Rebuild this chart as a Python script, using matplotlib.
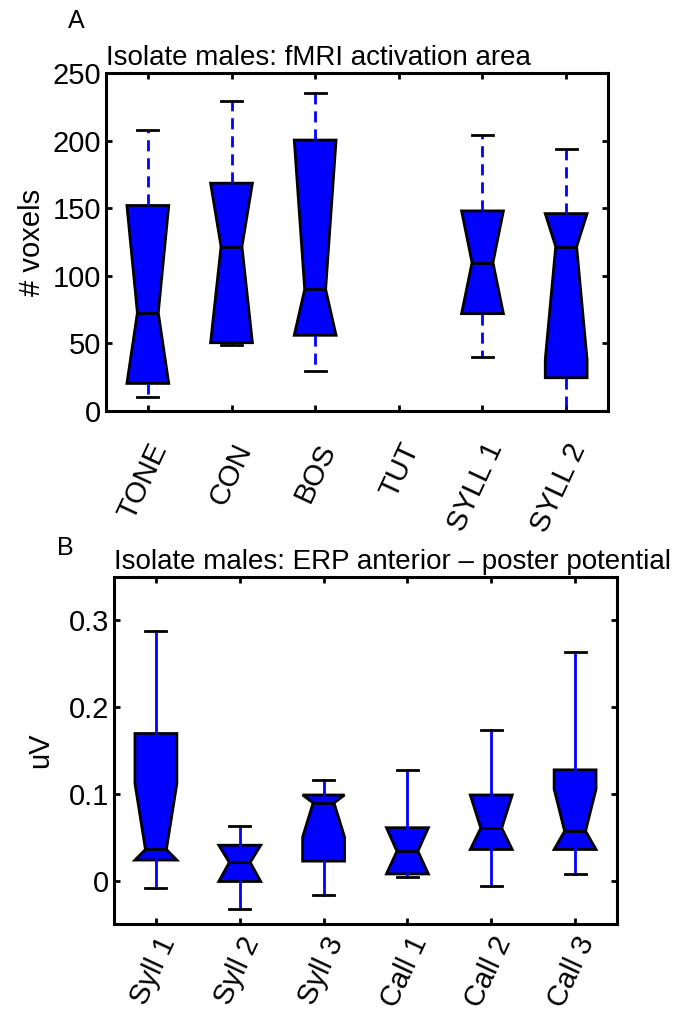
import matplotlib
matplotlib.use("Agg")
import matplotlib.pyplot as plt

plt.rcParams['font.family'] = ['Liberation Sans', 'DejaVu Sans']

# panel A: fMRI activation area (# voxels); TUT has no data
a_labels = ['TONE', 'CON', 'BOS', 'TUT', 'SYLL 1', 'SYLL 2']
a_pos = [1, 2, 3, 5, 6]
a_whislo = [10.5, 48.5, 29.5, 40, -20]
a_q1 = [20.4, 50.5, 56, 72, 24.6]
a_cilo = [20.4, 50.5, 56, 72, 38]
a_med = [72.7, 121.6, 90, 109.8, 121.6]
a_cihi = [152, 168.5, 200.4, 148, 146]
a_q3 = [152, 168.5, 200.4, 148, 146]
a_whishi = [207.6, 229, 235, 204, 193.5]

# panel B: ERP anterior - posterior potential (uV)
b_labels = ['Syll 1', 'Syll 2', 'Syll 3', 'Call 1', 'Call 2', 'Call 3']
b_pos = [1, 2, 3, 4, 5, 6]
b_whislo = [-0.0087, -0.0327, -0.0164, 0.0039, -0.006, 0.0077]
b_q1 = [0.0237, -0.001, 0.0225, 0.0077, 0.0359, 0.0359]
b_cilo = [0.0237, -0.001, 0.0503, 0.0077, 0.0359, 0.0359]
b_med = [0.0359, 0.021, 0.0896, 0.034, 0.0606, 0.0571]
b_cihi = [0.112, 0.0408, 0.0987, 0.061, 0.0987, 0.1056]
b_q3 = [0.1696, 0.0408, 0.0987, 0.061, 0.0987, 0.1277]
b_whishi = [0.2876, 0.0625, 0.1159, 0.1277, 0.1741, 0.2637]


def make_stats(whislo, q1, cilo, med, cihi, q3, whishi):
    return [dict(whislo=a, q1=b, cilo=c, med=d, cihi=e, q3=f, whishi=g, fliers=[])
            for a, b, c, d, e, f, g in zip(whislo, q1, cilo, med, cihi, q3, whishi)]


def draw(ax, stats, pos, wstyle):
    ax.bxp(stats, positions=pos, widths=0.5, capwidths=0.25, shownotches=True,
           patch_artist=True, showfliers=False,
           boxprops=dict(facecolor='#0000ff', edgecolor='black', linewidth=2),
           medianprops=dict(color='black', linewidth=2),
           whiskerprops=dict(color='#0000ff', linewidth=2, linestyle=wstyle),
           capprops=dict(color='black', linewidth=2))
    ax.set_xlim(0.5, 6.5)
    for s in ax.spines.values():
        s.set_linewidth(2.2)
    ax.tick_params(direction='in', length=4, width=2, top=True, right=True,
                   labelsize=21)


fig = plt.figure(figsize=(6.76, 10.11), dpi=100)

ax1 = fig.add_axes([106 / 676, 1 - 411 / 1011, 502 / 676, 338 / 1011])
draw(ax1, make_stats(a_whislo, a_q1, a_cilo, a_med, a_cihi, a_q3, a_whishi),
     a_pos, (0, (4, 2.5)))
ax1.set_ylim(0, 250)
ax1.set_yticks([0, 50, 100, 150, 200, 250])
ax1.set_xticks(range(1, 7))
ax1.set_xticklabels(a_labels, rotation=65, ha='right', va='top',
                    rotation_mode='anchor')
ax1.tick_params(axis='x', pad=20)
ax1.set_ylabel('# voxels', fontsize=21)
ax1.yaxis.set_label_coords(-0.12, 0.5)
ax1.set_title('Isolate males: fMRI activation area', loc='left', fontsize=20, pad=6)

ax2 = fig.add_axes([114 / 676, 1 - 924 / 1011, 503 / 676, 347 / 1011])
draw(ax2, make_stats(b_whislo, b_q1, b_cilo, b_med, b_cihi, b_q3, b_whishi),
     b_pos, '-')
ax2.set_ylim(-0.05, 0.35)
ax2.set_yticks([0, 0.1, 0.2, 0.3])
ax2.set_yticklabels(['0', '0.1', '0.2', '0.3'])
ax2.set_xticks(b_pos)
ax2.set_xticklabels(b_labels, rotation=65, ha='right', va='top',
                    rotation_mode='anchor')
ax2.tick_params(axis='x', pad=6)
ax2.set_ylabel('uV', fontsize=21)
ax2.yaxis.set_label_coords(-0.12, 0.5)
ax2.set_title('Isolate males: ERP anterior \u2013 poster potential', loc='left',
              fontsize=20, pad=6)

fig.text(68 / 676, 1 - 21 / 1011, 'A', fontsize=18, va='center', ha='left')
fig.text(57 / 676, 1 - 548 / 1011, 'B', fontsize=18, va='center', ha='left')

fig.savefig('out.png', dpi=100)
